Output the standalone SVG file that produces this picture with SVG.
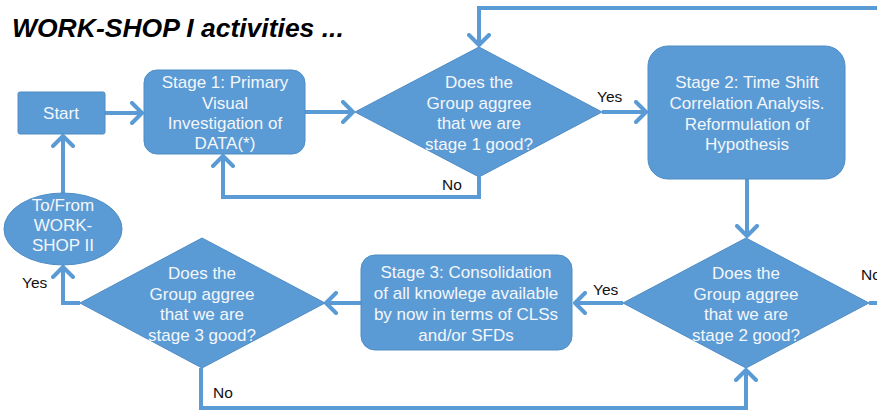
<svg xmlns="http://www.w3.org/2000/svg" width="877" height="412" viewBox="0 0 877 412">
  <style>
    .node { fill: #5B9BD5; stroke: #4f8cc4; stroke-width: 1; }
    .ntext { font-family: "Liberation Sans", Arial, sans-serif; font-size: 17px; fill: #f4f6fa; text-anchor: middle; }
    .label { font-family: "Liberation Sans", Arial, sans-serif; font-size: 15.5px; fill: #111; }
    .title { font-family: "Liberation Sans", Arial, sans-serif; font-size: 26.5px; font-weight: bold; font-style: italic; fill: #000; }
    .conn { fill: none; stroke: #5B9BD5; stroke-width: 4; stroke-linejoin: miter; }
  </style>
  <defs>
    <marker id="arrow" viewBox="0 0 14 24" refX="12" refY="12" markerWidth="14" markerHeight="24" markerUnits="userSpaceOnUse" orient="auto">
      <path d="M2,2 L12,12 L2,22" fill="none" stroke="#5B9BD5" stroke-width="4" stroke-linecap="round" stroke-linejoin="round"/>
    </marker>
  </defs>
  <rect width="877" height="412" fill="#ffffff"/>

  <text class="title" x="12" y="37">WORK-SHOP I activities ...</text>

  <!-- connectors -->
  <g id="connectors">
    <path class="conn" d="M105,113 H142" marker-end="url(#arrow)"/>
    <path class="conn" d="M63,193 V136" marker-end="url(#arrow)"/>
    <path class="conn" d="M305,112 H353" marker-end="url(#arrow)"/>
    <path class="conn" d="M479,177 V197 H223 V156" marker-end="url(#arrow)"/>
    <path class="conn" d="M602,112 H646" marker-end="url(#arrow)"/>
    <path class="conn" d="M877,8 H479 V45" marker-end="url(#arrow)"/>
    <path class="conn" d="M747,179 V236" marker-end="url(#arrow)"/>
    <path class="conn" d="M869,303 H877"/>
    <path class="conn" d="M623,303 H575" marker-end="url(#arrow)"/>
    <path class="conn" d="M361,303 H326" marker-end="url(#arrow)"/>
    <path class="conn" d="M80,303 H63 V267" marker-end="url(#arrow)"/>
    <path class="conn" d="M201,368 V408 H746 V370" marker-end="url(#arrow)"/>
    <text class="label" x="597" y="102">Yes</text>
    <text class="label" x="442" y="190">No</text>
    <text class="label" x="593" y="295">Yes</text>
    <text class="label" x="861" y="280">No</text>
    <text class="label" x="22" y="288">Yes</text>
    <text class="label" x="213" y="398">No</text>
  </g>

  <g id="start">
    <rect class="node" x="18" y="92" width="87" height="42" rx="2"/>
    <text class="ntext" x="61" y="119">Start</text>
  </g>

  <g id="workshop2">
    <ellipse class="node" cx="63" cy="229" rx="59" ry="36"/>
    <text class="ntext" x="63" y="211">To/From</text>
    <text class="ntext" x="63" y="231">WORK-</text>
    <text class="ntext" x="63" y="251">SHOP II</text>
  </g>

  <g id="stage1">
    <rect class="node" x="144" y="70" width="161" height="84" rx="13"/>
    <text class="ntext" x="225" y="88">Stage 1: Primary</text>
    <text class="ntext" x="225" y="108.5">Visual</text>
    <text class="ntext" x="225" y="129">Investigation of</text>
    <text class="ntext" x="225" y="149">DATA(*)</text>
  </g>

  <g id="decision1">
    <polygon class="node" points="479,47 602,112 479,177 355,112"/>
    <text class="ntext" x="479" y="88">Does the</text>
    <text class="ntext" x="479" y="108.5">Group aggree</text>
    <text class="ntext" x="479" y="129">that we are</text>
    <text class="ntext" x="479" y="149.5">stage 1 good?</text>
  </g>

  <g id="stage2">
    <rect class="node" x="648" y="46" width="197" height="133" rx="20"/>
    <text class="ntext" x="747" y="88">Stage 2: Time Shift</text>
    <text class="ntext" x="747" y="109">Correlation Analysis.</text>
    <text class="ntext" x="747" y="130">Reformulation of</text>
    <text class="ntext" x="747" y="150">Hypothesis</text>
  </g>

  <g id="decision2">
    <polygon class="node" points="746,238 869,303 746,368 623,303"/>
    <text class="ntext" x="746" y="279">Does the</text>
    <text class="ntext" x="746" y="300">Group aggree</text>
    <text class="ntext" x="746" y="320">that we are</text>
    <text class="ntext" x="746" y="341">stage 2 good?</text>
  </g>

  <g id="stage3">
    <rect class="node" x="361" y="255" width="211" height="95" rx="14"/>
    <text class="ntext" x="466" y="278">Stage 3: Consolidation</text>
    <text class="ntext" x="466" y="299">of all knowlege available</text>
    <text class="ntext" x="466" y="320">by now in terms of CLSs</text>
    <text class="ntext" x="466" y="341">and/or SFDs</text>
  </g>

  <g id="decision3">
    <polygon class="node" points="202,238 325,303 202,368 80,303"/>
    <text class="ntext" x="202" y="279">Does the</text>
    <text class="ntext" x="202" y="300">Group aggree</text>
    <text class="ntext" x="202" y="320">that we are</text>
    <text class="ntext" x="202" y="341">stage 3 good?</text>
  </g>
</svg>
